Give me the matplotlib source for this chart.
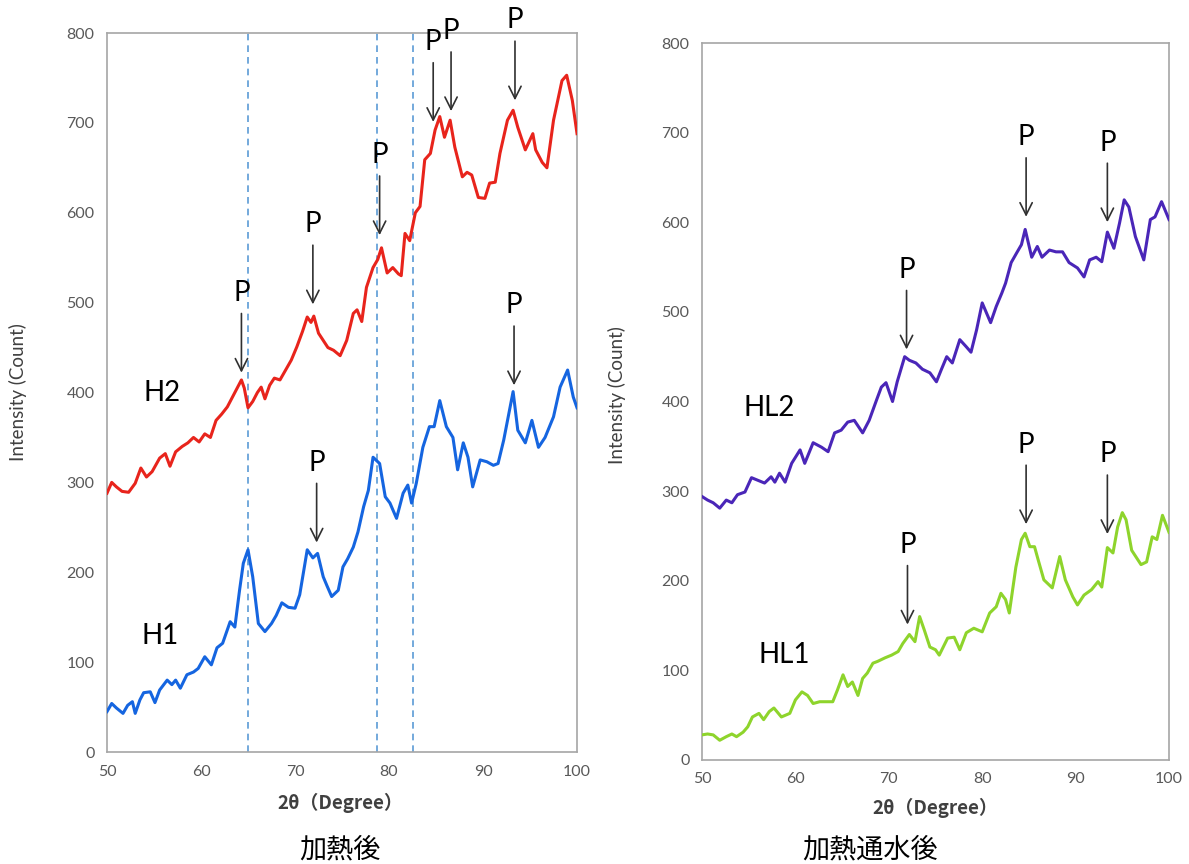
import matplotlib
matplotlib.use("Agg")
import matplotlib.pyplot as plt

# --- data (2theta in degrees, intensity in counts) ---
h2_x = [50.0, 50.5, 51.0, 51.6, 52.3, 53.0, 53.6, 54.2, 54.8, 55.6, 56.2, 56.7, 57.3, 58.0,
        58.6, 59.2, 59.8, 60.4, 61.0, 61.6, 62.2, 62.8, 63.4, 64.0, 64.3, 64.6, 65.0, 65.5,
        66.0, 66.4, 66.8, 67.3, 67.8, 68.4, 69.0, 69.6, 70.2, 70.8, 71.3, 71.7, 72.0, 72.5,
        73.0, 73.5, 74.1, 74.8, 75.5, 76.2, 76.6, 77.1, 77.6, 78.3, 78.8, 79.2, 79.8, 80.4,
        81.0, 81.3, 81.7, 82.2, 82.8, 83.3, 83.8, 84.4, 84.9, 85.4, 85.9, 86.5, 87.0, 87.8,
        88.3, 88.8, 89.5, 90.2, 90.7, 91.3, 91.8, 92.6, 93.2, 93.7, 94.5, 95.3, 95.6, 96.3,
        96.8, 97.5, 98.4, 98.9, 99.5, 100.0]
h2_y = [288, 300, 295, 290, 289, 299, 316, 306, 312, 327, 332, 318, 334, 340,
        344, 350, 345, 354, 350, 369, 376, 384, 396, 408, 414, 405, 383, 390,
        400, 406, 393, 408, 416, 414, 425, 436, 451, 468, 484, 478, 485, 466,
        458, 450, 447, 441, 458, 488, 492, 479, 517, 539, 548, 561, 533, 539,
        532, 530, 577, 569, 600, 607, 659, 666, 692, 707, 684, 703, 673, 640,
        645, 642, 617, 616, 633, 634, 666, 703, 714, 695, 670, 688, 670, 656,
        650, 703, 747, 753, 725, 688]

h1_x = [50.0, 50.5, 51.0, 51.7, 52.2, 52.7, 53.0, 53.5, 53.9, 54.6, 55.1, 55.6, 56.4, 56.9,
        57.3, 57.8, 58.5, 59.2, 59.7, 60.4, 61.1, 61.7, 62.3, 63.1, 63.6, 64.1, 64.5, 65.0,
        65.5, 66.1, 66.8, 67.5, 68.0, 68.6, 69.3, 70.0, 70.5, 71.3, 71.9, 72.4, 73.0, 73.4,
        73.9, 74.6, 75.1, 75.6, 76.2, 76.7, 77.3, 77.8, 78.3, 79.0, 79.6, 80.1, 80.8, 81.5,
        82.0, 82.4, 82.9, 83.6, 84.3, 84.8, 85.4, 86.1, 86.8, 87.3, 87.9, 88.4, 88.9, 89.7,
        90.4, 91.1, 91.6, 92.2, 93.2, 93.7, 94.5, 95.2, 95.9, 96.6, 97.5, 98.2, 99.0, 99.6,
        100.0]
h1_y = [45, 54, 49, 43, 52, 56, 43, 58, 66, 67, 55, 69, 80, 75,
        80, 71, 86, 89, 93, 106, 97, 116, 121, 145, 139, 180, 210, 225,
        195, 143, 134, 143, 152, 166, 161, 160, 175, 225, 216, 221, 195, 185,
        173, 180, 206, 215, 228, 245, 273, 291, 328, 321, 284, 277, 260, 288,
        297, 277, 299, 339, 362, 362, 391, 362, 350, 314, 344, 328, 295, 325,
        323, 319, 321, 347, 401, 358, 344, 369, 339, 350, 373, 406, 425, 395,
        383]

hl2_x = [50.0, 50.6, 51.2, 51.9, 52.6, 53.2, 53.8, 54.6, 55.3, 56.0, 56.7, 57.4, 57.8, 58.3,
         58.9, 59.6, 60.5, 61.0, 61.9, 62.8, 63.5, 64.2, 64.9, 65.6, 66.3, 67.2, 67.9, 68.7,
         69.2, 69.7, 70.4, 70.9, 71.7, 72.2, 72.9, 73.6, 74.4, 75.1, 75.6, 76.2, 76.8, 77.6,
         78.3, 78.8, 79.4, 80.0, 80.9, 81.5, 82.1, 82.5, 83.1, 83.7, 84.2, 84.6, 85.3, 85.9,
         86.4, 87.2, 87.9, 88.6, 89.3, 90.2, 90.9, 91.5, 92.2, 92.8, 93.4, 94.1, 94.7, 95.2,
         95.7, 96.4, 97.3, 98.0, 98.5, 99.2, 100.0]
hl2_y = [294, 290, 287, 281, 290, 287, 296, 299, 315, 312, 309, 316, 310, 320,
         310, 331, 346, 331, 354, 349, 344, 365, 368, 377, 379, 365, 379, 402,
         416, 421, 400, 422, 450, 446, 443, 436, 432, 422, 435, 450, 443, 469,
         461, 455, 480, 510, 488, 506, 521, 532, 555, 566, 575, 592, 561, 573,
         561, 569, 567, 567, 555, 549, 539, 558, 561, 556, 589, 571, 599, 625,
         617, 584, 558, 603, 606, 623, 603]

hl1_x = [50.0, 50.6, 51.2, 51.9, 52.6, 53.2, 53.7, 54.4, 54.9, 55.4, 56.1, 56.6, 57.2, 57.7,
         58.5, 59.4, 60.0, 60.7, 61.3, 61.9, 62.6, 63.3, 64.0, 64.5, 65.1, 65.6, 66.1, 66.7,
         67.2, 67.7, 68.3, 68.8, 69.6, 70.3, 71.0, 71.5, 72.2, 72.8, 73.3, 73.8, 74.4, 75.0,
         75.4, 76.3, 77.0, 77.6, 78.3, 79.1, 80.0, 80.8, 81.5, 82.0, 82.5, 82.9, 83.6, 84.2,
         84.6, 85.1, 85.6, 86.0, 86.6, 87.5, 88.3, 88.9, 89.7, 90.2, 90.9, 91.7, 92.4, 92.8,
         93.4, 94.0, 94.5, 95.0, 95.4, 96.0, 97.0, 97.6, 98.2, 98.7, 99.3, 100.0]
hl1_y = [28, 29, 28, 22, 26, 29, 26, 31, 37, 48, 52, 45, 54, 58,
         48, 52, 67, 76, 72, 63, 65, 65, 65, 78, 95, 82, 87, 72,
         91, 97, 108, 110, 114, 117, 121, 130, 140, 132, 160, 145, 126, 123,
         117, 136, 137, 123, 142, 147, 143, 164, 171, 186, 179, 164, 215, 246,
         253, 238, 238, 223, 201, 192, 227, 201, 182, 173, 184, 190, 199, 193,
         237, 231, 260, 276, 268, 234, 218, 221, 249, 246, 273, 254]

# reference lines (2theta) on the left panel
ref_lines = [65.0, 78.7, 82.5]

# "P" peak marks: (2theta, arrow tip intensity)
left_peaks = [(64.3, 419), (71.9, 495), (79.0, 572), (84.7, 698), (86.6, 710),
              (93.4, 722), (93.3, 405), (72.3, 230)]
right_peaks = [(71.9, 455), (84.7, 603), (93.4, 597),
               (72.0, 148), (84.7, 260), (93.4, 249)]

x_ticks = [50, 60, 70, 80, 90, 100]
y_ticks = [0, 100, 200, 300, 400, 500, 600, 700, 800]

CJK = ['Noto Sans CJK JP', 'DejaVu Sans']
LAB = ['Lato', 'DejaVu Sans']


def style_axes(ax):
    ax.set_xlim(50, 100)
    ax.set_ylim(0, 800)
    ax.set_xticks(x_ticks)
    ax.set_yticks(y_ticks)
    ax.tick_params(length=0, labelsize=11.5, labelcolor='#595959', pad=9)
    for lbl in ax.get_xticklabels() + ax.get_yticklabels():
        lbl.set_family(LAB)
    for sp in ax.spines.values():
        sp.set_color('#a6a6a6')
        sp.set_linewidth(1.2)
    ax.set_xlabel('2θ（Degree）', family=CJK, fontsize=13.5, fontweight='bold', color='#404040')
    ax.set_ylabel('Intensity (Count)', family=LAB, fontsize=13.5, color='#404040')


def mark_peaks(ax, peaks):
    for x, tip in peaks:
        ax.annotate('', xy=(x, tip), xytext=(x, tip + 72),
                    arrowprops=dict(arrowstyle='->', color='#303030', lw=1.2,
                                    mutation_scale=22), annotation_clip=False)
        ax.text(x, tip + 92, 'P', family=LAB, fontsize=20, ha='center', va='center',
                color='black', clip_on=False)


fig = plt.figure(figsize=(11.89, 8.64), dpi=100)
ax1 = fig.add_axes([0.090, 0.1296, 0.3953, 0.8322])
ax2 = fig.add_axes([0.5904, 0.1204, 0.3928, 0.8298])

# left: after heating
for xv in ref_lines:
    ax1.axvline(xv, color='#5b9bd5', lw=1.2, ls=(0, (4, 3)), zorder=1)
ax1.plot(h2_x, h2_y, color='#e8241c', lw=2.2, zorder=3)
ax1.plot(h1_x, h1_y, color='#1565e0', lw=2.2, zorder=3)
style_axes(ax1)
ax1.xaxis.set_label_coords(0.496, -0.057)
ax1.yaxis.set_label_coords(-0.17, 0.50)
ax1.text(55.9, 400, 'H2', family=LAB, fontsize=20, ha='center', va='center')
ax1.text(55.6, 129, 'H1', family=LAB, fontsize=20, ha='center', va='center')
mark_peaks(ax1, left_peaks)

# right: after heating + water flow
ax2.plot(hl2_x, hl2_y, color='#4a26b8', lw=2.2, zorder=3)
ax2.plot(hl1_x, hl1_y, color='#8ed42c', lw=2.2, zorder=3)
style_axes(ax2)
ax2.xaxis.set_label_coords(0.499, -0.053)
ax2.yaxis.set_label_coords(-0.162, 0.509)
ax2.text(57.2, 393, 'HL2', family=LAB, fontsize=20, ha='center', va='center')
ax2.text(58.8, 117, 'HL1', family=LAB, fontsize=20, ha='center', va='center')
mark_peaks(ax2, right_peaks)

fig.text(340 / 1189, 1 - 850 / 864, '加熱後', family=CJK, fontsize=19.5, ha='center', va='center')
fig.text(870 / 1189, 1 - 850 / 864, '加熱通水後', family=CJK, fontsize=19.5, ha='center', va='center')

fig.savefig('out.png', dpi=100)
